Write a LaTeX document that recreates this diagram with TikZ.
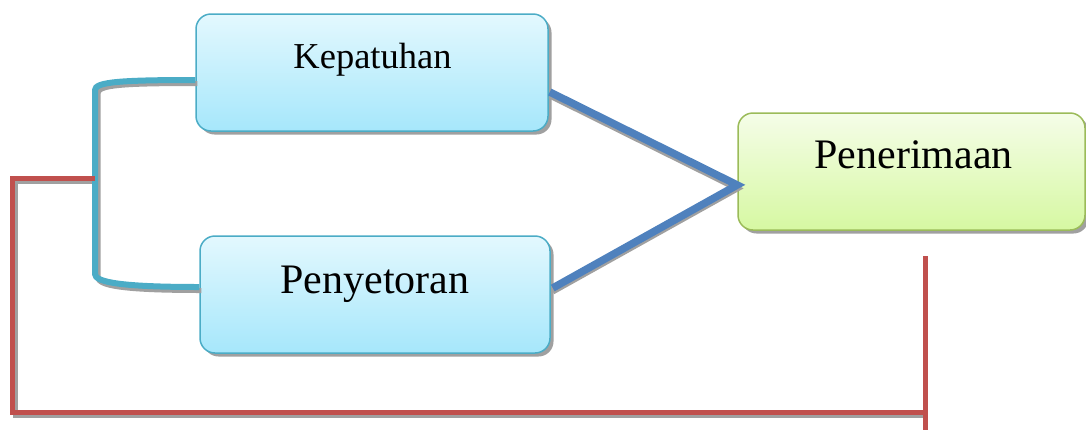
\documentclass[tikz,border=0pt]{standalone}
\usepackage{fontspec}
\setmainfont{Liberation Serif}
\usetikzlibrary{calc}
\definecolor{teal1}{HTML}{4BACC6}
\definecolor{blue1}{HTML}{4F81BD}
\definecolor{red1}{HTML}{C0504D}
\definecolor{green1}{HTML}{9BBB59}
\definecolor{cyanTop}{HTML}{E3F8FE}
\definecolor{cyanBot}{HTML}{A6E7FB}
\definecolor{greenTop}{HTML}{F5FDE8}
\definecolor{greenBot}{HTML}{D6F8A2}
\definecolor{shade1}{HTML}{A0A0A0}
\tikzset{
  bluebox/.style={draw=teal1, line width=1.5pt, rounded corners=15pt,
    top color=cyanTop, bottom color=cyanBot, minimum width=352pt, minimum height=117pt, inner sep=0pt},
  greenbox/.style={draw=green1, line width=1.5pt, rounded corners=15pt,
    top color=greenTop, bottom color=greenBot, minimum width=347pt, minimum height=117pt, inner sep=0pt},
  boxshadow/.style={fill=shade1, draw=none, rounded corners=15pt, minimum height=117pt, inner sep=0pt},
  lbl/.style={anchor=base, inner sep=0pt},
  tealline/.style={draw=teal1, line width=6pt},
  blueline/.style={draw=blue1, line width=7.5pt},
  redline/.style={draw=red1, line width=5pt},
  shadowline/.style={draw=shade1, line width=5pt},
}
\begin{document}
\begin{tikzpicture}[x=1pt,y=-1pt]
\useasboundingbox (0,0) rectangle (1086,432);
% shadows of boxes
\node[boxshadow, minimum width=352pt] at (375.5,76) {};
\node[boxshadow, minimum width=350pt] at (378.5,298) {};
\node[boxshadow, minimum width=347pt] at (915,175) {};
% boxes
\node[bluebox] (kep) at (372,72.5) {};
\node[bluebox, minimum width=350pt] (pen) at (375,294.5) {};
\node[greenbox] (ter) at (911.5,171.5) {};
\node[lbl, font=\fontsize{36.5}{40}\selectfont] (tkep) at (372.5,68) {Kepatuhan};
\node[lbl, font=\fontsize{42}{46}\selectfont] (tpen) at (375,293) {Penyetoran};
\node[lbl, font=\fontsize{42}{46}\selectfont] (tter) at (913.5,168) {Penerimaan};
% connector anchor points
\coordinate (k1) at ($(kep.west)+(0,7.5)$);
\coordinate (p1) at ($(pen.west)+(0,-7.5)$);
\coordinate (k2) at ($(kep.east)+(1,19.5)$);
\coordinate (p2) at ($(pen.east)+(2,-6.5)$);
\coordinate (t1) at ($(ter.west)+(0,13.5)$);
\coordinate (br) at (95,178);
\coordinate (r1) at (12,178);
\coordinate (r2) at (12,412);
\coordinate (r3) at (925,412);
\coordinate (r4) at (925,256);
\coordinate (r5) at (925,430);
% shadows of lines
\draw[shadowline, line width=6pt] ($(k2)+(0,3.5)$) -- ($(t1)+(0,3.5)$) -- ($(p2)+(0,3.5)$);
\draw[shadowline] ($(k1)+(2,3.5)$) .. controls (120,83.5) and (98,85.5) .. (98,93.5) -- (98,277.5) .. controls (98,285.5) and (120,290.5) .. ($(p1)+(2,3.5)$);
\draw[shadowline] (98,181.5) -- (15,181.5) -- (15,415.5) -- (925,415.5);
% teal bracket
\draw[tealline] (k1) .. controls (120,80) and (95,82) .. (95,90) -- (95,274) .. controls (95,282) and (120,287) .. (p1);
% blue lines
\draw[blueline] (k2) -- (t1) -- (p2);
% red lines
\draw[redline] (br) -- (r1) -- (r2) -- (r3);
\draw[redline] (r4) -- (r5);
\end{tikzpicture}
\end{document}
